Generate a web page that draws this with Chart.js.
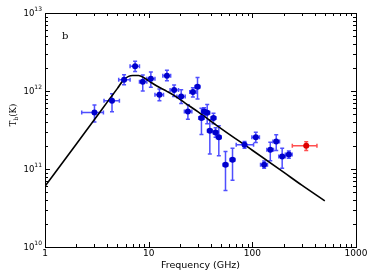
<!DOCTYPE html>
<html>
<head>
<meta charset="utf-8">
<script src="https://cdn.jsdelivr.net/npm/chart.js@4.4.1/dist/chart.umd.min.js"></script>
<style>
  html, body { margin: 0; padding: 0; background: #fff; }
  #wrap { width: 374px; height: 280px; }
</style>
</head>
<body>
<div id="wrap"><canvas id="chart" width="374" height="280"></canvas></div>
<script>
// measured points (GHz, K) with error ranges
const freq   = [3.0, 4.43, 5.79, 7.4, 8.77, 10.5, 12.7, 15.0, 17.6, 20.6, 23.9, 26.7, 29.6, 32.3, 34.3, 36.7, 38.9, 42.2, 44.2, 47.5, 55.1, 64.4, 84.1, 108, 130, 149, 170, 194, 225];
const freqLo = [2.26, 3.71, 5.14, 6.62, 8.15, 9.6, 11.5, 13.7, 16.1, 18.7, 22.1, 24.9, 28.0, 30.4, 32.5, 34.8, 36.9, 40.0, 41.9, 45.0, 52.2, 61.0, 69.9, 99, 120, 138, 158, 180, 208];
const freqHi = [3.66, 5.22, 6.62, 8.15, 9.6, 11.5, 13.9, 16.3, 19.4, 22.5, 26.1, 28.7, 31.2, 34.3, 36.2, 38.8, 41.0, 44.5, 46.6, 50.1, 58.1, 68.0, 102.8, 117, 140, 160, 183, 209, 242];
const tb     = [5.3e11, 7.5e11, 1.39e12, 2.07e12, 1.31e12, 1.44e12, 8.96e11, 1.57e12, 1.03e12, 8.5e11, 5.47e11, 9.7e11, 1.13e12, 4.49e11, 5.47e11, 5.25e11, 3.09e11, 4.49e11, 2.94e11, 2.56e11, 1.13e11, 1.31e11, 2.04e11, 2.56e11, 1.13e11, 1.76e11, 2.25e11, 1.45e11, 1.53e11];
const tbLo   = [4.0e11, 5.4e11, 1.2e12, 1.78e12, 1.0e12, 1.12e12, 7.5e11, 1.35e12, 8.5e11, 6.9e11, 4.35e11, 8.4e11, 7.9e11, 2.77e11, 4.9e11, 3.8e11, 1.56e11, 3.8e11, 2.56e11, 1.48e11, 5.3e10, 7.2e10, 1.85e11, 2.19e11, 1.02e11, 1.28e11, 1.73e11, 1.02e11, 1.37e11];
const tbHi   = [6.6e11, 9.2e11, 1.61e12, 2.4e12, 1.6e12, 1.75e12, 1.06e12, 1.84e12, 1.19e12, 1.04e12, 6.65e11, 1.1e12, 1.49e12, 6.0e11, 6.1e11, 6.7e11, 4.27e11, 5.2e11, 3.37e11, 3.58e11, 1.68e11, 1.85e11, 2.25e11, 2.97e11, 1.27e11, 2.21e11, 2.74e11, 1.85e11, 1.7e11];

// the red point
const redFreq = [331], redFreqLo = [243], redFreqHi = [420];
const redTb = [1.98e11], redTbLo = [1.73e11], redTbHi = [2.23e11];

// model curve
const modelFreq = [1, 2, 3, 4, 5, 5.7, 6.4, 7.0, 8.0, 9.0, 10, 12, 15, 18, 22.5, 30, 50, 100, 200, 300, 500];
const modelTb   = [6.0e10, 2.08e11, 4.3e11, 7.25e11, 1.08e12, 1.38e12, 1.54e12, 1.58e12, 1.58e12, 1.48e12, 1.35e12, 1.16e12, 9.9e11, 8.6e11, 7.0e11, 5.4e11, 3.3e11, 1.74e11, 9.1e10, 6.2e10, 3.9e10];

const xTicks = [1, 10, 100, 1000];
const yExp = [10, 11, 12, 13];

const toPts = (xs, ys) => xs.map((x, i) => ({ x: x, y: ys[i] }));

// error bars, drawn under the markers
const errorBars = {
  id: 'errorBars',
  beforeDatasetsDraw(chart) {
    const { ctx, scales: { x, y } } = chart;
    const groups = [
      { f: freq, fl: freqLo, fh: freqHi, t: tb, tl: tbLo, th: tbHi, color: 'rgba(20,20,255,0.75)' },
      { f: redFreq, fl: redFreqLo, fh: redFreqHi, t: redTb, tl: redTbLo, th: redTbHi, color: 'rgba(255,20,20,0.75)' }
    ];
    ctx.save();
    ctx.lineWidth = 1.5;
    groups.forEach(g => {
      ctx.strokeStyle = g.color;
      g.f.forEach((f, i) => {
        const px = x.getPixelForValue(f), py = y.getPixelForValue(g.t[i]);
        const x0 = x.getPixelForValue(g.fl[i]), x1 = x.getPixelForValue(g.fh[i]);
        const y0 = y.getPixelForValue(g.tl[i]), y1 = y.getPixelForValue(g.th[i]);
        const cap = 2;
        ctx.beginPath();
        ctx.moveTo(x0, py); ctx.lineTo(x1, py);
        ctx.moveTo(px, y0); ctx.lineTo(px, y1);
        ctx.moveTo(x0, py - cap); ctx.lineTo(x0, py + cap);
        ctx.moveTo(x1, py - cap); ctx.lineTo(x1, py + cap);
        ctx.moveTo(px - cap, y0); ctx.lineTo(px + cap, y0);
        ctx.moveTo(px - cap, y1); ctx.lineTo(px + cap, y1);
        ctx.stroke();
      });
    });
    ctx.restore();
  }
};

// frame, inward ticks, y labels with exponents, titles
const frame = {
  id: 'frame',
  afterDraw(chart) {
    const { ctx, chartArea: a, scales: { x, y } } = chart;
    ctx.save();
    ctx.strokeStyle = '#000';
    ctx.lineWidth = 1;
    ctx.strokeRect(Math.round(a.left) + 0.5, Math.round(a.top) + 0.5, Math.round(a.right - a.left), Math.round(a.bottom - a.top));

    ctx.beginPath();
    for (let d = 1; d <= 1000; d *= 10) {
      for (let m = 1; m <= 9; m++) {
        const v = d * m;
        if (v > 1000) break;
        const len = m === 1 ? 5 : 3;
        const px = Math.round(x.getPixelForValue(v)) + 0.5;
        ctx.moveTo(px, a.bottom); ctx.lineTo(px, a.bottom - len);
        ctx.moveTo(px, a.top); ctx.lineTo(px, a.top + len);
      }
    }
    for (let e = 10; e <= 13; e++) {
      for (let m = 1; m <= 9; m++) {
        if (e === 13 && m > 1) break;
        const len = m === 1 ? 5 : 3;
        const py = Math.round(y.getPixelForValue(m * Math.pow(10, e))) + 0.5;
        ctx.moveTo(a.left, py); ctx.lineTo(a.left + len, py);
        ctx.moveTo(a.right, py); ctx.lineTo(a.right - len, py);
      }
    }
    ctx.stroke();

    // y tick labels 10^n
    ctx.fillStyle = '#000';
    ctx.textBaseline = 'middle';
    yExp.forEach(e => {
      const py = y.getPixelForValue(Math.pow(10, e));
      ctx.font = '6px "DejaVu Sans"';
      ctx.textAlign = 'right';
      const ex = String(e);
      const ew = ctx.measureText(ex).width;
      ctx.fillText(ex, a.left - 3, py - 4);
      ctx.font = '8.5px "DejaVu Sans"';
      ctx.fillText('10', a.left - 3 - ew, py + 1);
    });

    // y title T_b(K)
    ctx.save();
    ctx.translate(13, 115);
    ctx.rotate(-Math.PI / 2);
    ctx.textBaseline = 'alphabetic';
    ctx.textAlign = 'left';
    ctx.font = '8.5px "DejaVu Serif"';
    const wT = ctx.measureText('T').width;
    ctx.font = '6px "DejaVu Serif"';
    const wb = ctx.measureText('b').width;
    ctx.font = '8.5px "DejaVu Serif"';
    const wK = ctx.measureText('(K)').width;
    const sx = -(wT + wb + wK) / 2;
    ctx.fillText('T', sx, 3);
    ctx.font = '6px "DejaVu Serif"';
    ctx.fillText('b', sx + wT, 5);
    ctx.font = '8.5px "DejaVu Serif"';
    ctx.fillText('(K)', sx + wT + wb, 3);
    ctx.restore();

    // x title
    ctx.textAlign = 'center';
    ctx.textBaseline = 'middle';
    ctx.font = '9.5px "DejaVu Sans"';
    ctx.fillText('Frequency (GHz)', (a.left + a.right) / 2, 266);

    // panel label
    ctx.font = '10px "DejaVu Serif"';
    ctx.textAlign = 'left';
    ctx.fillText('b', 62, 36);
    ctx.restore();
  }
};

new Chart(document.getElementById('chart'), {
  type: 'scatter',
  data: {
    datasets: [
      {
        data: toPts(freq, tb),
        backgroundColor: '#0000cc',
        borderWidth: 0,
        pointRadius: 3,
        order: 0
      },
      {
        data: toPts(redFreq, redTb),
        backgroundColor: '#dd0000',
        borderWidth: 0,
        pointRadius: 3,
        order: 0
      },
      {
        data: toPts(modelFreq, modelTb),
        showLine: true,
        borderColor: '#000',
        borderWidth: 1.6,
        pointRadius: 0,
        cubicInterpolationMode: 'monotone',
        order: 1
      }
    ]
  },
  options: {
    responsive: false,
    devicePixelRatio: 1,
    animation: false,
    layout: { padding: { top: 13, right: 18, left: 0, bottom: 0 } },
    plugins: { legend: { display: false }, tooltip: { enabled: false } },
    scales: {
      x: {
        type: 'logarithmic',
        min: 1,
        max: 1000,
        afterBuildTicks: s => { s.ticks = xTicks.map(v => ({ value: v })); },
        afterFit: s => { s.height = 33; },
        grid: { display: false, drawTicks: false },
        border: { display: false },
        ticks: {
          padding: 1,
          color: '#000',
          maxRotation: 0,
          autoSkip: false,
          font: { family: 'DejaVu Sans', size: 9 },
          callback: v => String(v)
        }
      },
      y: {
        type: 'logarithmic',
        min: 1e10,
        max: 1e13,
        afterBuildTicks: s => { s.ticks = yExp.map(e => ({ value: Math.pow(10, e) })); },
        afterFit: s => { s.width = 45; },
        grid: { display: false, drawTicks: false },
        border: { display: false },
        ticks: { display: false }
      }
    }
  },
  plugins: [errorBars, frame]
});
</script>
</body>
</html>
